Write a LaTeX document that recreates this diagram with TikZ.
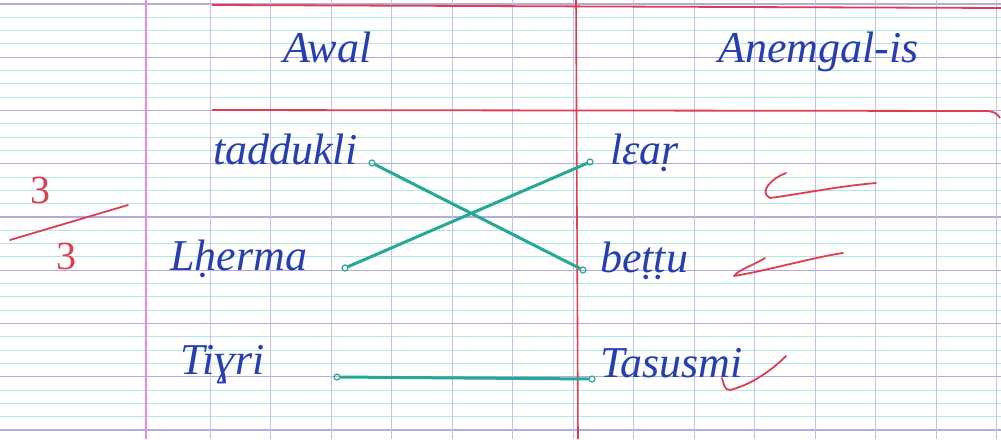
\documentclass[tikz,border=0pt]{standalone}
\usepackage{fontspec}
\setmainfont{Liberation Serif}
\definecolor{inkblue}{RGB}{38,62,178}
\definecolor{inkteal}{RGB}{38,168,150}
\definecolor{inkred}{RGB}{222,62,82}
\definecolor{rulecyan}{RGB}{178,232,226}
\definecolor{rulepurple}{RGB}{180,170,226}
\definecolor{rulepink}{RGB}{232,140,222}
\tikzset{
  word/.style={font=\fontsize{44}{48}\selectfont\itshape, text=inkblue, inner sep=0pt, anchor=base west},
  mark3/.style={font=\fontsize{40}{44}\selectfont, text=inkred, inner sep=0pt},
  pendot/.style={circle, draw=inkteal, line width=1.2pt, minimum size=6pt, inner sep=0pt},
  link/.style={draw=inkteal, line width=3pt, line cap=round},
  tick/.style={draw=inkred, line width=1.8pt, line cap=round, line join=round},
}
\begin{document}
\begin{tikzpicture}[x=1pt,y=-1pt]
  \useasboundingbox (0,0) rectangle (1001,439);
  \fill[white] (0,0) rectangle (1001,439);
  % ruling of the page
  \foreach \k in {0,...,33}
    \draw[rulecyan, line width=0.9pt] (0,4+13.3125*\k) -- (1001,4+13.3125*\k);
  \foreach \k in {0,...,8}
    \draw[rulepurple, line width=1.2pt] (0,4+53.25*\k) -- (1001,4+53.25*\k);
  \foreach \k in {0,...,13}
    \draw[rulepurple!75, line width=0.9pt] (210+60.5*\k,0) -- (210+60.5*\k,439);
  \draw[rulepink, line width=1.4pt] (146,0) -- (146,439);
  % header lines and column line
  \draw[inkred, line width=1.8pt] (212,5) -- (1001,8);
  \draw[inkred, line width=1.8pt] (212,110) -- (985,111) .. controls (993,111) and (997,113) .. (1000,118);
  \draw[inkred, line width=1.6pt] (576,0) -- (578,439);
  % headings
  \node[word] (awal) at (283,62) {Awal};
  \node[word] (anemgal) at (718,62) {Anemgal-is};
  % words
  \node[word] (taddukli) at (213,164) {taddukli};
  \node[word] (lherma) at (170,270) {Lḥerma};
  \node[word] (tighri) at (180,374) {Tiɣri};
  \node[word] (learr) at (610,164) {lɛaṛ};
  \node[word] (bettu) at (600,272) {beṭṭu};
  \node[word] (tasusmi) at (600,377) {Tasusmi};
  % dots
  \node[pendot] (taddukli-o) at (372,163) {};
  \node[pendot] (lherma-o) at (345,268) {};
  \node[pendot] (tighri-o) at (337,377) {};
  \node[pendot] (learr-o) at (590,162) {};
  \node[pendot] (bettu-o) at (583,270) {};
  \node[pendot] (tasusmi-o) at (592,379) {};
  % matching lines
  \draw[link] (taddukli-o) -- (bettu-o);
  \draw[link] (lherma-o) -- (learr-o);
  \draw[link] (tighri-o) -- (tasusmi-o);
  % marks
  \node[mark3] (num) at (40,190) {3};
  \node[mark3] (den) at (66,256) {3};
  \draw[tick] (10,240) -- (128,205);
  \draw[tick] (786,173) .. controls (772,178) and (758,192) .. (770,198)
    .. controls (800,194) and (840,186) .. (876,183);
  \draw[tick] (765,258) .. controls (752,266) and (738,270) .. (734,276)
    .. controls (770,270) and (810,258) .. (843,253);
  \draw[tick] (722,378) .. controls (724,384) and (724,390) .. (730,390)
    .. controls (750,385) and (770,372) .. (786,356);
\end{tikzpicture}
\end{document}
